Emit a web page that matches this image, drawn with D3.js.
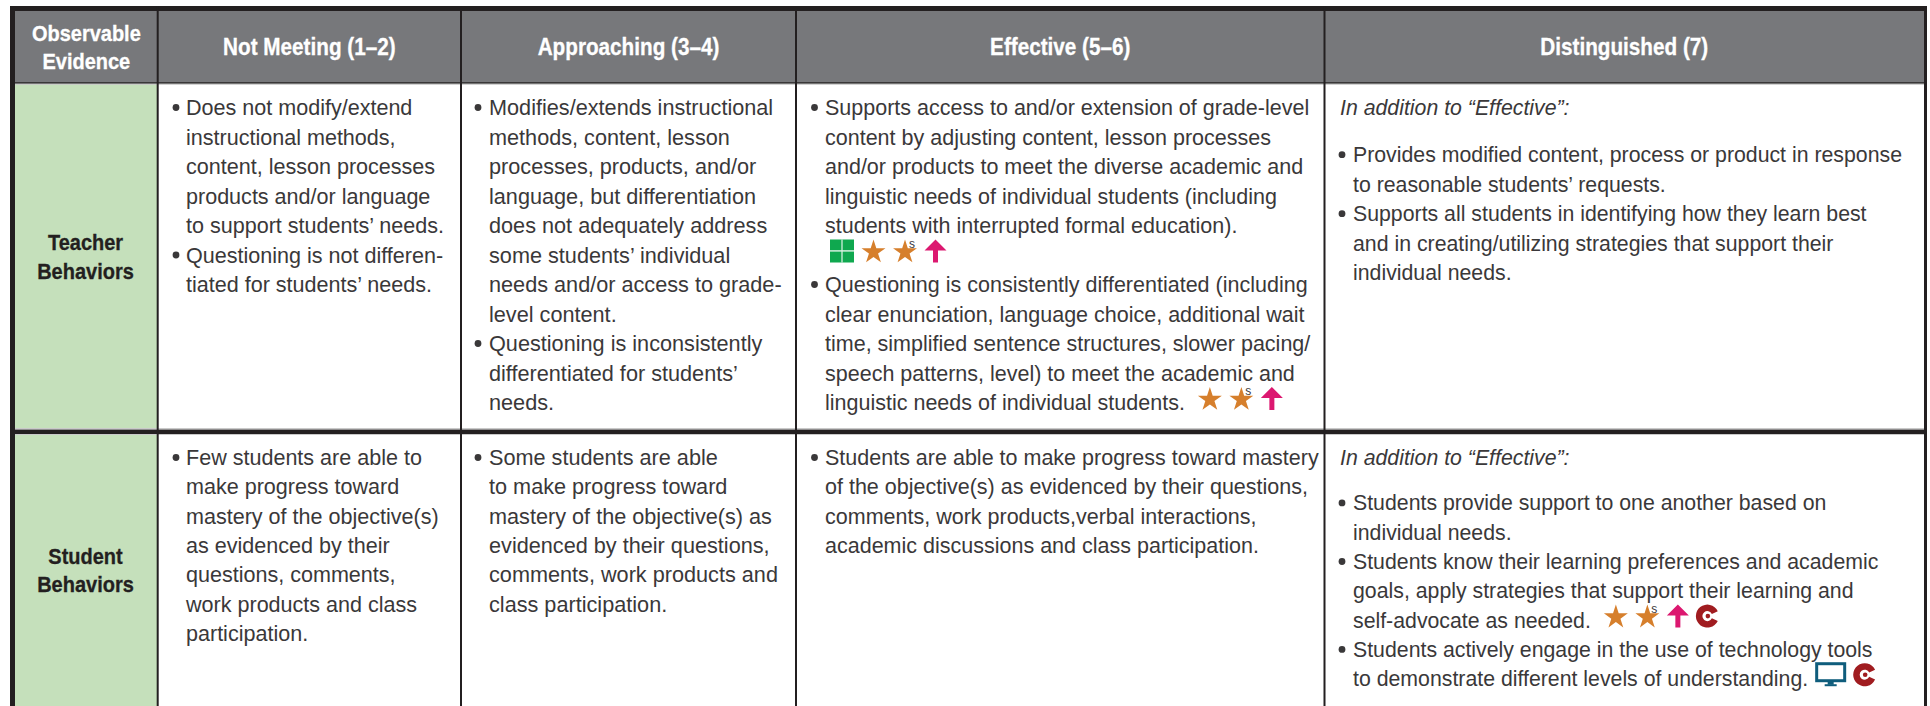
<!DOCTYPE html>
<html>
<head>
<meta charset="utf-8">
<script src="https://cdnjs.cloudflare.com/ajax/libs/d3/7.8.5/d3.min.js"></script>
<style>
  body { margin: 0; background: #fff; }
  svg { display: block; }
  text { font-family: "Liberation Sans", sans-serif; }
</style>
</head>
<body>
<script>
// Table content. "• " starts a bullet, "_" an italic lead-in, "|" separates text from icons
const columnLabels = ["Observable\nEvidence", "Not Meeting (1–2)", "Approaching (3–4)", "Effective (5–6)", "Distinguished (7)"];
const rowLabels = ["Teacher\nBehaviors", "Student\nBehaviors"];

const teacherCells = [
    ["• Does not modify/extend", "instructional methods,", "content, lesson processes", "products and/or language", "to support students’ needs.", "• Questioning is not differen-", "tiated for students’ needs."],
    ["• Modifies/extends instructional", "methods, content, lesson", "processes, products, and/or", "language, but differentiation", "does not adequately address", "some students’ individual", "needs and/or access to grade-", "level content.", "• Questioning is inconsistently", "differentiated for students’", "needs."],
    ["• Supports access to and/or extension of grade-level", "content by adjusting content, lesson processes", "and/or products to meet the diverse academic and", "linguistic needs of individual students (including", "students with interrupted formal education).", "|grid star starS up", "• Questioning is consistently differentiated (including", "clear enunciation, language choice, additional wait", "time, simplified sentence structures, slower pacing/", "speech patterns, level) to meet the academic and", "linguistic needs of individual students. |star starS up"],
    ["_In addition to “Effective”:", "• Provides modified content, process or product in response", "to reasonable students’ requests.", "• Supports all students in identifying how they learn best", "and in creating/utilizing strategies that support their", "individual needs."]
];
const studentCells = [
    ["• Few students are able to", "make progress toward", "mastery of the objective(s)", "as evidenced by their", "questions, comments,", "work products and class", "participation."],
    ["• Some students are able", "to make progress toward", "mastery of the objective(s) as", "evidenced by their questions,", "comments, work products and", "class participation."],
    ["• Students are able to make progress toward mastery", "of the objective(s) as evidenced by their questions,", "comments, work products,verbal interactions,", "academic discussions and class participation."],
    ["_In addition to “Effective”:", "• Students provide support to one another based on", "individual needs.", "• Students know their learning preferences and academic", "goals, apply strategies that support their learning and", "self-advocate as needed. |star starS up c", "• Students actively engage in the use of technology tools", "to demonstrate different levels of understanding. |monitor c"]
];

// layout
const width = 1930, height = 706;
const colEdges = [15, 157.7, 461, 796, 1324.5, 1924];
const bulletX = [0, 176, 478, 814.5, 1342];
const textX = [0, 186, 489, 825, 1353];
const italicX = 1340;
const rowTops = [84, 434];
const rowBottoms = [429, 706];
const firstBaseline = [115, 465];
const labelBaseline = [250, 563.5];
const lineSteps = [29.5, 29.3];
const leadInSteps = [1.6, 1.55];
const bodySize = 22;
const bodyStretch = [0, 0.98, 0.985, 0.978, 0.968];

const dark = "#231f20", headerGrey = "#77787b", green = "#c5e0bb", bodyInk = "#3a3839";

const x = d3.scaleOrdinal().domain(d3.range(6)).range(colEdges);
const lineY = d3.scaleLinear().domain([0, 1]);

const svg = d3.select("body").append("svg")
    .attr("width", width)
    .attr("height", height);

// header band and row label cells
svg.append("rect").attr("x", 15).attr("y", 11).attr("width", 1909).attr("height", 71).attr("fill", headerGrey);
rowLabels.forEach((d, i) => {
    svg.append("rect")
        .attr("x", 15).attr("y", rowTops[i])
        .attr("width", 142).attr("height", rowBottoms[i] - rowTops[i])
        .attr("fill", green);
});

// horizontal rules
const rules = [
    { y: 6, h: 5, c: dark },
    { y: 82, h: 1.8, c: "#3a3839" },
    { y: 83.8, h: 1, c: "#c9c9c9" },
    { y: 428, h: 1, c: "#c9c9c9" },
    { y: 429.5, h: 4.5, c: dark },
    { y: 434, h: 1, c: "#c9c9c9" }
];
svg.selectAll(".rule").data(rules).enter().append("rect")
    .attr("class", "rule")
    .attr("x", 10).attr("width", 1917)
    .attr("y", d => d.y).attr("height", d => d.h)
    .attr("fill", d => d.c);

// vertical rules
svg.selectAll(".col").data(colEdges.slice(1, 5)).enter().append("rect")
    .attr("class", "col")
    .attr("x", d => d - 1).attr("width", 2)
    .attr("y", 6).attr("height", height - 6)
    .attr("fill", dark);
svg.append("rect").attr("x", 10).attr("y", 6).attr("width", 5).attr("height", height - 6).attr("fill", dark);
svg.append("rect").attr("x", 1924).attr("y", 6).attr("width", 3).attr("height", height - 6).attr("fill", dark);

// header labels
columnLabels.forEach((label, i) => {
    const cx = (x(i) + x(i + 1)) / 2;
    const parts = label.split("\n");
    parts.forEach((part, j) => {
        svg.append("text")
            .attr("text-anchor", "middle")
            .attr("transform", `translate(${cx}, ${parts.length > 1 ? 41 + j * 27.5 : 55}) scale(${i ? 0.9 : 0.93}, 1)`)
            .attr("font-size", i ? 23 : 21.5)
            .attr("font-weight", 700)
            .attr("fill", "#fff")
            .attr("stroke", "#fff")
            .attr("stroke-width", 0.3)
            .text(part);
    });
});

// row labels
rowLabels.forEach((label, i) => {
    label.split("\n").forEach((part, j) => {
        svg.append("text")
            .attr("text-anchor", "middle")
            .attr("transform", `translate(85.5, ${labelBaseline[i] + j * 28.5}) scale(0.93, 1)`)
            .attr("font-size", 21.5)
            .attr("font-weight", 700)
            .attr("fill", dark)
            .attr("stroke", dark)
            .attr("stroke-width", 0.3)
            .text(part);
    });
});

// icons, each drawn with its bottom-left corner at (0, 0)
const iconWidths = { grid: 24, star: 24, starS: 24, up: 22, c: 22, monitor: 31 };
const starPath = d3.symbol(d3.symbolStar, 178)();
const arrowPath = d3.line()([[8.5, 0], [13.5, 0], [13.5, -12], [22, -12], [11, -23], [0, -12], [8.5, -12]]) + "Z";
const cArc = d3.arc().innerRadius(5).outerRadius(11.5).startAngle(Math.PI * 0.64).endAngle(Math.PI * 2.36)();

const iconDraw = {
    grid: g => {
        g.append("rect").attr("y", -23).attr("width", 24).attr("height", 23).attr("fill", "#0fa84f");
        g.append("rect").attr("x", 11.4).attr("y", -23).attr("width", 1.2).attr("height", 23).attr("fill", "#dff3e6");
        g.append("rect").attr("y", -12.3).attr("width", 24).attr("height", 1.4).attr("fill", "#dff3e6");
    },
    star: g => {
        g.append("path").attr("d", starPath).attr("transform", "translate(12, -10.4)").attr("fill", "#d67f2c");
    },
    starS: g => {
        iconDraw.star(g);
        g.append("text").attr("x", 16).attr("y", -15).attr("font-size", 12).attr("fill", bodyInk).text("s");
    },
    up: g => {
        g.append("path").attr("d", arrowPath).attr("fill", "#dc1870");
    },
    c: g => {
        g.append("path").attr("d", cArc).attr("transform", "translate(11, -11.5)").attr("fill", "#a01c20");
        g.append("circle").attr("cx", 11.5).attr("cy", -11.5).attr("r", 2.3).attr("fill", "#a01c20");
    },
    monitor: g => {
        g.append("rect").attr("x", 1.5).attr("y", -22.5).attr("width", 28).attr("height", 17).attr("fill", "none").attr("stroke", "#0f5d7c").attr("stroke-width", 3);
        g.append("rect").attr("x", 12.5).attr("y", -4.5).attr("width", 6).attr("height", 3).attr("fill", "#0f5d7c");
        g.append("rect").attr("x", 9.5).attr("y", -2).attr("width", 12).attr("height", 2).attr("fill", "#0f5d7c");
    }
};

// body cells
[teacherCells, studentCells].forEach((cells, r) => {
    cells.forEach((lines, c) => {
        const col = c + 1;
        const y = lineY.copy().range([firstBaseline[r], firstBaseline[r] + lineSteps[r]]);
        let pos = 0;
        lines.forEach(raw => {
            const [rawText, iconList] = raw.split("|");
            const italic = rawText.startsWith("_");
            const bullet = rawText.startsWith("• ");
            const content = rawText.replace(/^_|^• /, "").trimEnd();
            const baseline = y(pos);
            const left = italic ? italicX : textX[col];
            let end = left + 5;

            if (bullet) {
                svg.append("circle")
                    .attr("cx", bulletX[col]).attr("cy", baseline - 7.5)
                    .attr("r", 3.4).attr("fill", bodyInk);
            }
            if (content) {
                const t = svg.append("text")
                    .attr("transform", `translate(${left}, ${baseline}) scale(${bodyStretch[col]}, 1)`)
                    .attr("font-size", bodySize)
                    .attr("font-style", italic ? "italic" : "normal")
                    .attr("fill", bodyInk)
                    .text(content);
                const gap = iconList && iconList.startsWith("monitor") ? 7 : 13;
                end = left + t.node().getComputedTextLength() * bodyStretch[col] + gap;
            }
            if (iconList) {
                iconList.split(" ").forEach(name => {
                    const g = svg.append("g").attr("transform", `translate(${end}, ${baseline})`);
                    iconDraw[name](g);
                    end += iconWidths[name] + 7.5;
                });
            }
            pos += italic ? leadInSteps[r] : 1;
        });
    });
});
</script>
</body>
</html>
